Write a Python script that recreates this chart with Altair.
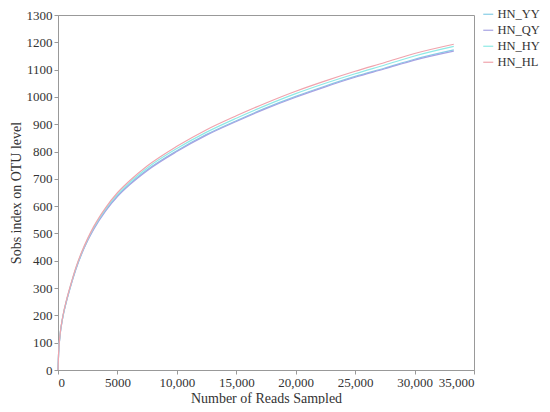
import altair as alt
import pandas as pd

reads = [0, 50, 150, 400, 700, 1000, 1500, 2000, 2500, 3000, 4000, 5000, 6000, 7500, 10000, 12500, 15000,
         17500, 20000, 22500, 25000, 27500, 30000, 33300]

series_names = ["HN_YY", "HN_QY", "HN_HY", "HN_HL"]
colors = ["#86cde6", "#a7a3e3", "#8eeae6", "#f0a4ad"]

hn_yy = [0, 60, 118, 193, 250, 298, 370, 428, 476, 518, 585, 638, 680, 733, 803, 863, 913, 960, 1002, 1040, 1075, 1106, 1138, 1172]
hn_qy = [0, 60, 117, 192, 249, 297, 368, 426, 474, 515, 582, 635, 677, 730, 800, 860, 910, 957, 999, 1037, 1072, 1103, 1135, 1168]
hn_hy = [0, 61, 119, 194, 252, 300, 372, 430, 479, 521, 589, 643, 686, 740, 811, 871, 922, 969, 1012, 1050, 1085, 1117, 1150, 1185]
hn_hl = [0, 61, 120, 196, 254, 302, 375, 433, 482, 525, 594, 649, 692, 747, 819, 880, 931, 978, 1021, 1059, 1094, 1126, 1159, 1193]

rows = []
for name, vals in zip(series_names, [hn_yy, hn_qy, hn_hy, hn_hl]):
    for r, v in zip(reads, vals):
        rows.append({"reads": r, "sobs": v, "sample": name})
df = pd.DataFrame(rows)

font = "Liberation Serif"

chart = alt.Chart(df).mark_line(strokeWidth=1.2, interpolate="monotone").encode(
    x=alt.X("reads:Q", scale=alt.Scale(domain=[0, 35000], nice=False),
            axis=alt.Axis(title="Number of Reads Sampled", values=list(range(0, 35001, 5000)),
                          labelExpr="datum.value >= 10000 ? format(datum.value, ',') : '' + datum.value",
                          grid=False)),
    y=alt.Y("sobs:Q", scale=alt.Scale(domain=[0, 1300], nice=False),
            axis=alt.Axis(title="Sobs index on OTU level", values=list(range(0, 1301, 100)),
                          format="d", grid=False)),
    color=alt.Color("sample:N", sort=series_names,
                    scale=alt.Scale(domain=series_names, range=colors),
                    legend=alt.Legend(title=None, orient="none", legendX=424, legendY=-7,
                                      symbolType="stroke", symbolStrokeWidth=1.2,
                                      symbolSize=100, labelFontSize=12.5, labelFont=font,
                                      labelColor="#333", rowPadding=3, labelOffset=3)),
).properties(
    width=416, height=355,
    autosize=alt.AutoSizeParams(type="none"),
    padding={"left": 50, "top": 7, "right": 68, "bottom": 34},
).configure_view(
    stroke="#999", strokeWidth=1
).configure_axis(
    labelFont=font, titleFont=font, labelFontSize=13, titleFontSize=14,
    labelColor="#333", titleColor="#333", titleFontWeight="normal",
    domainColor="#999", tickColor="#999", tickSize=4, labelPadding=2,
).configure_axisY(titlePadding=3).configure_axisX(titlePadding=2)

chart.save("out.html", embed_options={"renderer": "svg", "actions": False})
